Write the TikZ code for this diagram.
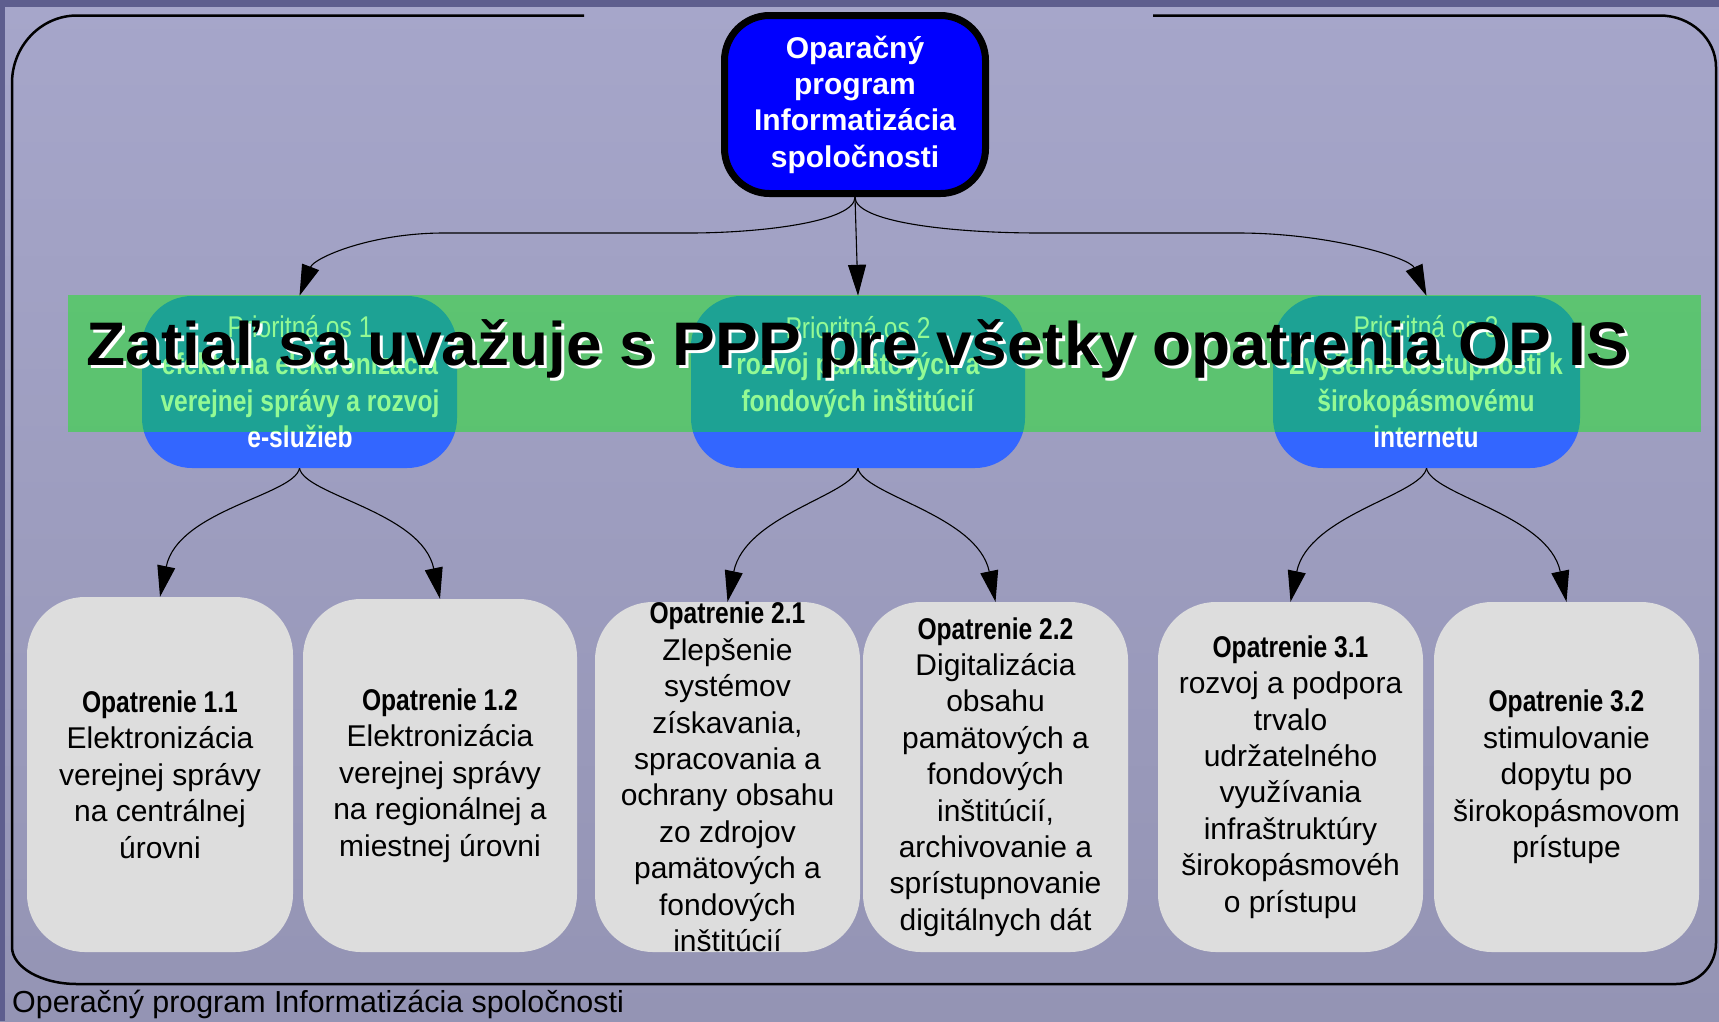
\documentclass[tikz,border=0pt]{standalone}
\usepackage{fontspec}
\setmainfont{Liberation Sans}
\newfontfamily\narrowfont[FakeStretch=0.82]{Liberation Sans}
\newfontfamily\bigfont[FakeStretch=1.04]{Liberation Sans}
\usetikzlibrary{arrows.meta}
\definecolor{bgtop}{RGB}{166,166,202}
\definecolor{bgbot}{RGB}{148,148,180}
\definecolor{bgdark}{RGB}{94,94,142}
\definecolor{titleblue}{RGB}{0,0,255}
\definecolor{prioblue}{RGB}{51,102,255}
\definecolor{bandgreen}{RGB}{0,245,0}
\definecolor{boxgray}{RGB}{221,221,221}
\begin{document}
\begin{tikzpicture}[x=1pt,y=-1pt,
  arr/.style={line width=1.1pt, -{Triangle[length=31pt,width=18pt]}},
  topbox/.style={draw=black, line width=7pt, fill=titleblue, rounded corners=45pt,
    minimum width=261pt, minimum height=178pt, inner sep=0pt, text=white, align=center,
    font=\bfseries\fontsize{30}{36.3}\selectfont},
  priobox/.style={fill=prioblue, rounded corners=50pt, minimum height=172pt, inner sep=0pt},
  priotext/.style={text=white, align=center, inner sep=0pt,
    font=\narrowfont\fontsize{30}{36.7}\selectfont},
  mbox/.style={fill=boxgray, rounded corners=58pt, inner sep=0pt},
  mtext/.style={align=center, inner sep=0pt, font=\fontsize{30}{36.4}\selectfont},
  frame/.style={draw=black, line width=2.5pt},
  bigtext/.style={inner sep=0pt, anchor=base, font=\bigfont\bfseries\fontsize{61.5}{70}\selectfont},
]
\useasboundingbox (0,0) rectangle (1719,1021);
% background
\shade[top color=bgtop, bottom color=bgbot] (0,0) rectangle (1719,1021);
\fill[bgdark] (0,0) rectangle (1719,7);
\fill[bgdark] (0,0) rectangle (5,1021);
% outer frame
\draw[frame] (584,15.5) -- (77,15.5) .. controls (41,15.5) and (12,46) .. (12,83)
  -- (12,947) .. controls (12,967) and (41,984) .. (77,984)
  -- (1676,984) .. controls (1698,984) and (1716,966) .. (1716,943)
  -- (1716,67) .. controls (1716,39) and (1691,15.5) .. (1660,15.5) -- (1153,15.5);
% title
\node[topbox] (top) at (855,104.5) {Oparačný\\program\\Informatizácia\\spoločnosti};
% priority boxes
\node[priobox, minimum width=315pt] (p1) at (299.5,382) {};
\node[priobox, minimum width=334pt] (p2) at (858,382) {};
\node[priobox, minimum width=307pt] (p3) at (1426.5,382) {};
\node[priotext] (p1t) at (300,382) {Prioritná os 1\\\textbf{efektívna elektronizácia}\\\textbf{verejnej správy a rozvoj}\\\textbf{e-služieb}};
\node[priotext] (p2t) at (858,367) {Prioritná os 2\\\textbf{rozvoj pamätových a}\\\textbf{fondových inštitúcií}};
\node[priotext] (p3t) at (1426,382) {Prioritná os 3\\\textbf{Zvýšenie dostupnosti k}\\\textbf{širokopásmovému}\\\textbf{internetu}};
% connectors from title
\draw[arr] (top.south) .. controls (855,222) and (760,233) .. (689,233) -- (444,233)
  .. controls (370,233) and (314,258) .. (p1.north);
\draw[arr] (top.south) -- (p2.north);
\draw[arr] (top.south) .. controls (855,222) and (950,233) .. (1040,233) -- (1238,233)
  .. controls (1330,233) and (1410,258) .. (p3.north);
% green band
\fill[bandgreen, opacity=0.42] (68,295) rectangle (1701,432);
% big text with shadow
\node[bigtext, text=white] (bigs) at (861,368) {Zatiaľ sa uvažuje s PPP pre všetky opatrenia OP IS};
\node[bigtext, text=black] (big) at (858,365) {Zatiaľ sa uvažuje s PPP pre všetky opatrenia OP IS};
% measure boxes
\node[mbox, minimum width=266pt, minimum height=355pt] (o11) at (160,774.5) {};
\node[mbox, minimum width=274pt, minimum height=353pt] (o12) at (440,775.5) {};
\node[mbox, minimum width=265pt, minimum height=350pt] (o21) at (727.5,777) {};
\node[mbox, minimum width=265pt, minimum height=350pt] (o22) at (995.5,777) {};
\node[mbox, minimum width=265pt, minimum height=350pt] (o31) at (1290.5,777) {};
\node[mbox, minimum width=265pt, minimum height=350pt] (o32) at (1566.5,777) {};
\node[mtext] (o11t) at (o11.center) {{\narrowfont\bfseries Opatrenie 1.1}\\Elektronizácia\\verejnej správy\\na centrálnej\\úrovni};
\node[mtext] (o12t) at (o12.center) {{\narrowfont\bfseries Opatrenie 1.2}\\Elektronizácia\\verejnej správy\\na regionálnej a\\miestnej úrovni};
\node[mtext] (o21t) at (o21.center) {{\narrowfont\bfseries Opatrenie 2.1}\\Zlepšenie\\systémov\\získavania,\\spracovania a\\ochrany obsahu\\zo zdrojov\\pamätových a\\fondových\\inštitúcií};
\node[mtext] (o22t) at (o22.center) {{\narrowfont\bfseries Opatrenie 2.2}\\Digitalizácia\\obsahu\\pamätových a\\fondových\\inštitúcií,\\archivovanie a\\sprístupnovanie\\digitálnych dát};
\node[mtext] (o31t) at (o31.center) {{\narrowfont\bfseries Opatrenie 3.1}\\rozvoj a podpora\\trvalo\\udržatelného\\využívania\\infraštruktúry\\širokopásmovéh\\o prístupu};
\node[mtext] (o32t) at (o32.center) {{\narrowfont\bfseries Opatrenie 3.2}\\stimulovanie\\dopytu po\\širokopásmovom\\prístupe};
% connectors to measures
\draw[arr] (p1.south) .. controls +(-5,27) and +(18,-87) .. (o11.north);
\draw[arr] (p1.south) .. controls +(5,27) and +(-18,-87) .. (o12.north);
\draw[arr] (p2.south) .. controls +(-5,27) and +(18,-87) .. (o21.north);
\draw[arr] (p2.south) .. controls +(5,27) and +(-18,-87) .. (o22.north);
\draw[arr] (p3.south) .. controls +(-5,27) and +(18,-87) .. (o31.north);
\draw[arr] (p3.south) .. controls +(5,27) and +(-18,-87) .. (o32.north);
% footer
\node[anchor=base west, inner sep=0pt, font=\fontsize{30.4}{36}\selectfont] (foot) at (12,1012) {Operačný program Informatizácia spoločnosti};
\end{tikzpicture}
\end{document}
